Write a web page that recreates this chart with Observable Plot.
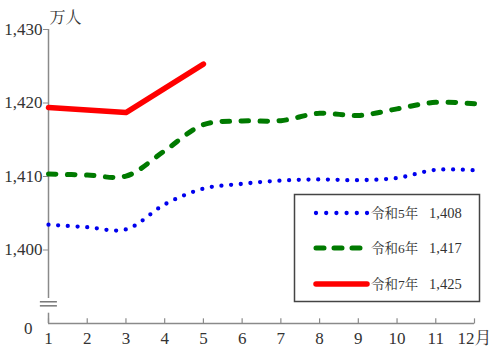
<!DOCTYPE html>
<html><head><meta charset="utf-8">
<script src="https://cdn.jsdelivr.net/npm/d3@7"></script>
<script src="https://cdn.jsdelivr.net/npm/@observablehq/plot@0.6"></script>
<style>
body{margin:0;background:#fff;}
#chart{position:relative;width:500px;height:357px;}
#chart svg text{font-family:"Liberation Serif","Noto Serif CJK JP",serif !important;}
</style></head>
<body><div id="chart"></div>
<script>
const months = [1,2,3,4,5,6,7,8,9,10,11,12];
const monthLabels = ["1","2","3","4","5","6","7","8","9","10","11","12月"];
const seriesNames = ["令和5年","令和6年","令和7年"];
const latestLabels = ["1,408","1,417","1,425"];
const r5 = [1403.45,1403.1,1402.8,1406.2,1408.35,1409.0,1409.45,1409.6,1409.5,1409.8,1410.9,1410.85];
const r6 = [1410.35,1410.2,1410.05,1413.5,1417.05,1417.55,1417.6,1418.6,1418.3,1419.2,1420.1,1419.9];
const r7 = [1419.4,1419.05,1418.7,1422.0,1425.3];
const yTicks = [1400,1410,1420,1430];
const yBottom = 1390;
const yTop = 1430;
const unitLabel = "万人";

const rows = (vals, name) => vals.map((v,i)=>({month: months[i], value: v, series: name}));
const d5 = rows(r5, seriesNames[0]);
const d6 = rows(r6, seriesNames[1]);
const d7 = rows(r7, seriesNames[2]);

const axisColor = "#8a8a8a";
const textColor = "#333";

const plot = Plot.plot({
  width: 500, height: 357,
  marginLeft: 48, marginRight: 26, marginTop: 29, marginBottom: 34,
  style: {fontSize: "17px", color: textColor, background: "#fff"},
  x: {domain: [1,12], label: null},
  y: {domain: [yBottom, yTop], label: null},
  marks: [
    Plot.ruleX([1], {y1: yTop, y2: 1393.4, stroke: axisColor, strokeWidth: 1.5}),
    Plot.ruleX([1], {y1: 1391.4, y2: yBottom, stroke: axisColor, strokeWidth: 1.5}),
    Plot.ruleY([yBottom], {x1: 1, x2: 12, stroke: axisColor, strokeWidth: 1.5}),
    Plot.ruleY([1392.95, 1392.4], {x1: 0.79, x2: 1.23, stroke: "#555", strokeWidth: 1.2}),
    Plot.link(months, {x1: d=>d, x2: d=>d, y1: yBottom, y2: yBottom + 0.7, stroke: axisColor, strokeWidth: 1.2}),
    Plot.axisX(months, {tickSize: 0, tickPadding: 8, tickFormat: d => monthLabels[months.indexOf(d)], fontSize: 17, fill: textColor}),
    Plot.axisY(yTicks, {tickSize: 5, tickPadding: 1, tickFormat: d3.format(","), fontSize: 17, stroke: axisColor, fill: textColor}),
    Plot.text([yBottom], {x: 1, y: d=>d, text: () => "0", dx: -16, dy: 5, textAnchor: "end", fontSize: 17, fill: textColor}),
    Plot.text([unitLabel], {x: 1, y: yTop, text: d=>d, dy: -12, dx: 1, textAnchor: "start", fontSize: 16, fill: textColor}),
    Plot.line(d5, {x: "month", y: "value", stroke: "#0000ee", strokeWidth: 4.3, strokeDasharray: "0 9.7", strokeLinecap: "round", curve: "catmull-rom"}),
    Plot.line(d6, {x: "month", y: "value", stroke: "#007a00", strokeWidth: 5, strokeDasharray: "7.5 11.5", strokeLinecap: "round", curve: "catmull-rom"}),
    Plot.line(d7, {x: "month", y: "value", stroke: "#ff0000", strokeWidth: 5.5, curve: "linear"})
  ]
});
const chart = document.getElementById("chart");
chart.appendChild(plot);

// Legend
const styles = [
  {stroke: "#0000ee", width: 4.3, dash: "0 10.2"},
  {stroke: "#007a00", width: 5, dash: "8 10"},
  {stroke: "#ff0000", width: 5.5, dash: null}
];
const lsvg = d3.create("svg").attr("width", 500).attr("height", 357)
  .style("position","absolute").style("left","0").style("top","0");
lsvg.append("rect").attr("x", 294.5).attr("y", 194.5).attr("width", 185).attr("height", 107)
  .attr("fill", "#fff").attr("stroke", "#444").attr("stroke-width", 1.5);
const rowY = [213, 248, 284];
seriesNames.forEach((name, i) => {
  const s = styles[i];
  const ln = lsvg.append("line").attr("x1", 316).attr("x2", 367).attr("y1", rowY[i]).attr("y2", rowY[i])
    .attr("stroke", s.stroke).attr("stroke-width", s.width).attr("stroke-linecap", "round");
  if (s.dash) ln.attr("stroke-dasharray", s.dash);
  lsvg.append("text").attr("x", 371).attr("y", rowY[i]).attr("dy", "0.35em")
    .attr("font-size", 13.5).attr("fill", textColor).text(name);
  lsvg.append("text").attr("x", 429).attr("y", rowY[i]).attr("dy", "0.35em")
    .attr("font-size", 14.5).attr("fill", textColor).text(latestLabels[i]);
});
chart.appendChild(lsvg.node());
</script>
</body></html>
